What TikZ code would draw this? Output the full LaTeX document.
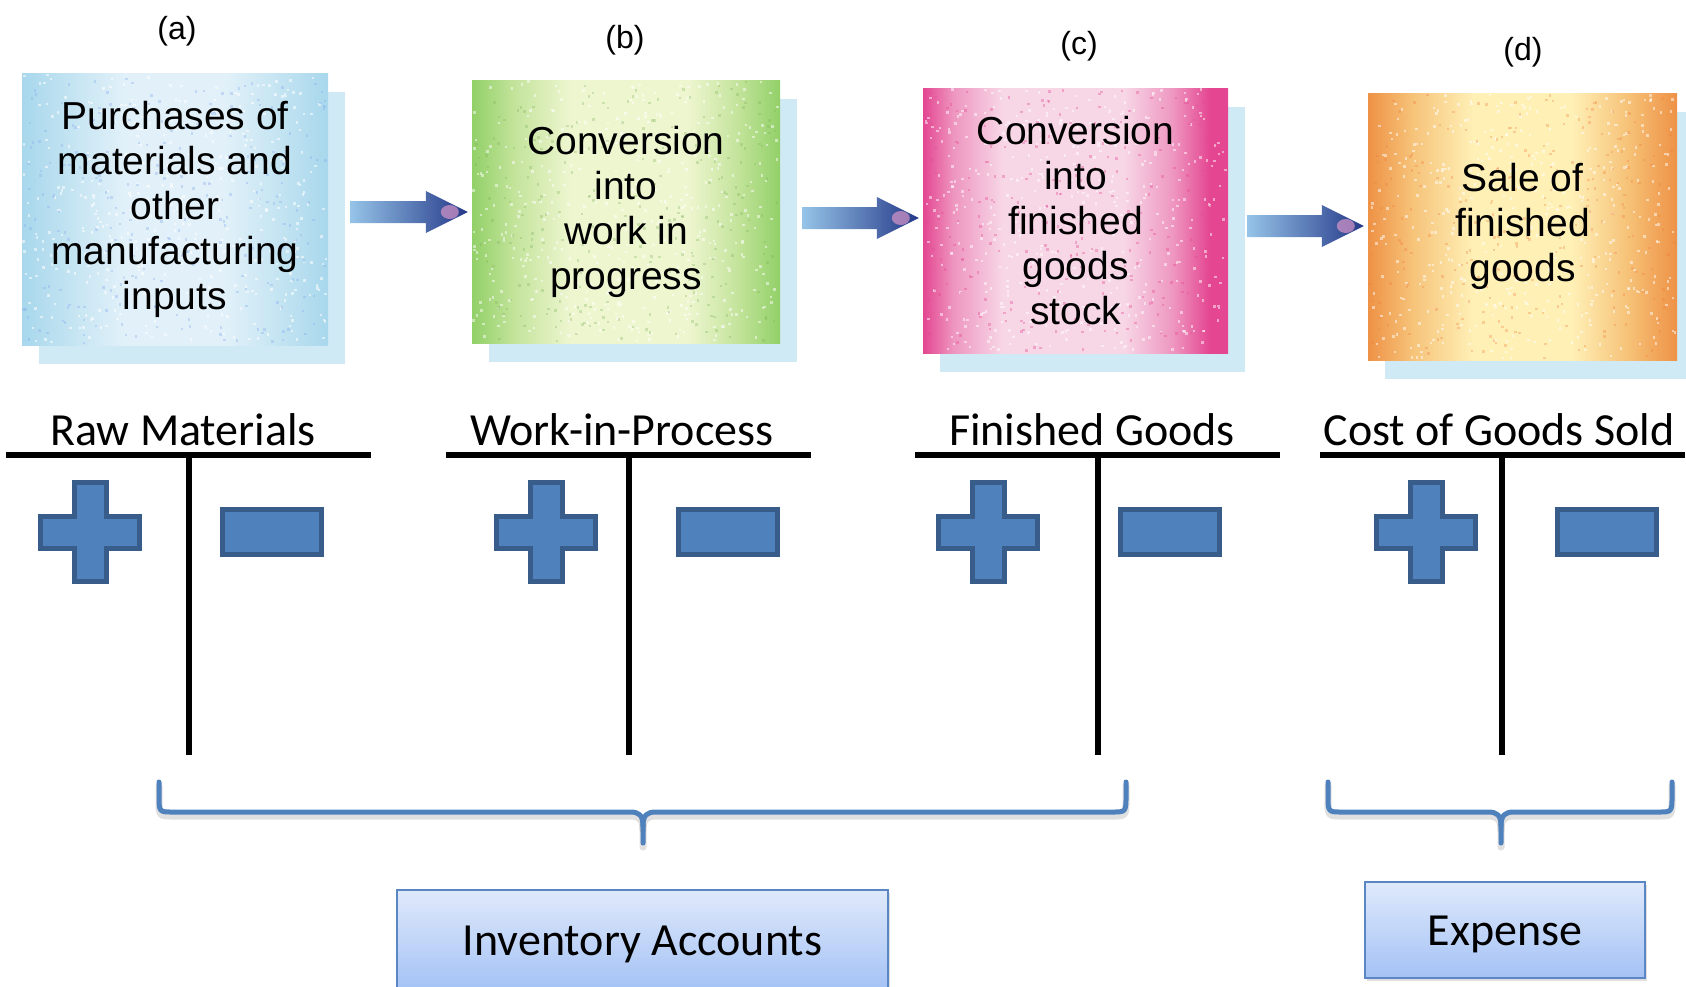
\documentclass[tikz,border=0pt]{standalone}
\usepackage{fontspec}
\setmainfont{Carlito}
\newfontfamily\boxfont{Liberation Sans}
\usetikzlibrary{calc,shadows}

\definecolor{signfill}{HTML}{4F81BD}
\definecolor{signedge}{HTML}{385D8A}
\definecolor{bracecol}{HTML}{4F81BD}
\definecolor{acctop}{HTML}{DFE9FB}
\definecolor{accbot}{HTML}{A4C2F5}
\definecolor{accedge}{HTML}{5A86C3}
\definecolor{blueedge}{RGB}{168,215,236}
\definecolor{bluehalf}{RGB}{196,228,242}
\definecolor{bluemid}{RGB}{226,241,249}
\definecolor{greenedge}{RGB}{146,208,104}
\definecolor{greenhalf}{RGB}{196,228,156}
\definecolor{greenmid}{RGB}{238,246,208}
\definecolor{pinkedge}{RGB}{228,70,145}
\definecolor{pinkhalf}{RGB}{238,150,192}
\definecolor{pinkmid}{RGB}{247,214,230}
\definecolor{orangeedge}{RGB}{238,146,70}
\definecolor{orangehalf}{RGB}{246,194,120}
\definecolor{orangemid}{RGB}{255,240,182}
\definecolor{backcyan}{RGB}{208,234,245}
\definecolor{arrowtail}{RGB}{150,196,232}
\definecolor{arrowbody}{RGB}{58,98,178}
\definecolor{arrowtip}{RGB}{36,56,136}
\definecolor{arrowglow}{RGB}{215,150,200}

% stage fills: strong colour at the sides, a pale band behind the text
\pgfdeclarehorizontalshading{bluestage}{100bp}{color(0bp)=(blueedge); color(25bp)=(blueedge);
  color(33bp)=(bluehalf); color(42bp)=(bluemid); color(58bp)=(bluemid);
  color(67bp)=(bluehalf); color(75bp)=(blueedge); color(100bp)=(blueedge)}
\pgfdeclarehorizontalshading{greenstage}{100bp}{color(0bp)=(greenedge); color(25bp)=(greenedge);
  color(32bp)=(greenhalf); color(41bp)=(greenmid); color(60bp)=(greenmid);
  color(68bp)=(greenhalf); color(75bp)=(greenedge); color(100bp)=(greenedge)}
\pgfdeclarehorizontalshading{pinkstage}{100bp}{color(0bp)=(pinkedge); color(25bp)=(pinkedge);
  color(30bp)=(pinkhalf); color(38bp)=(pinkmid); color(58bp)=(pinkmid);
  color(66bp)=(pinkhalf); color(72bp)=(pinkedge); color(100bp)=(pinkedge)}
\pgfdeclarehorizontalshading{orangestage}{100bp}{color(0bp)=(orangeedge); color(25bp)=(orangeedge);
  color(32bp)=(orangehalf); color(42bp)=(orangemid); color(58bp)=(orangemid);
  color(67bp)=(orangehalf); color(75bp)=(orangeedge); color(100bp)=(orangeedge)}

% fat block arrow from a start coordinate to the west side of a stage box
\newcommand{\flowarrow}[2]{%
  \shade[left color=arrowtail, middle color=arrowbody, right color=arrowtip]
    let \p1=(#1), \p2=(#2.west) in
    ({\x1},{\y1+11pt}) -- ({\x2-46pt},{\y1+11pt}) -- ({\x2-46pt},{\y1+21pt})
    -- ({\x2-4pt},{\y1}) -- ({\x2-46pt},{\y1-21pt}) -- ({\x2-46pt},{\y1-11pt})
    -- ({\x1},{\y1-11pt}) -- cycle;
  \fill[arrowglow, opacity=0.7] let \p1=(#1), \p2=(#2.west) in
    ({\x2-22pt},{\y1}) ellipse [x radius=9pt, y radius=7pt];
}

% printed grain: small specks scattered over a rectangle
\newcommand{\grain}[6]{%
  \foreach \k in {1,...,#6}{%
    \pgfmathsetmacro{\sx}{#1+rnd*(#3-3)}%
    \pgfmathsetmacro{\sy}{#2+rnd*(#4-3)}%
    \fill[#5] (\sx,\sy) rectangle ++(2.5,2.5);
  }%
}

\begin{document}
\begin{tikzpicture}[x=1pt,y=-1pt,
  stagebox/.style={inner sep=0pt, align=center,
    font=\boxfont\fontsize{39}{45}\selectfont,
    drop shadow={shadow xshift=17pt, shadow yshift=-19pt, fill=backcyan, opacity=1}},
  stagelabel/.style={font=\boxfont\fontsize{32}{38}\selectfont, inner sep=0pt},
  acctitle/.style={font=\fontsize{46}{55}\selectfont, inner sep=0pt, anchor=base},
  tline/.style={line width=6pt, black},
  signshape/.style={fill=signfill, draw=signedge, line width=5pt, line join=miter},
  plussign/.pic={\draw[signshape] (-49.5,-16) -- (-16,-16) -- (-16,-49.5) -- (16,-49.5)
      -- (16,-16) -- (49.5,-16) -- (49.5,16) -- (16,16) -- (16,49.5) -- (-16,49.5)
      -- (-16,16) -- (-49.5,16) -- cycle;},
  minussign/.pic={\draw[signshape] (-49.5,-22.5) rectangle (49.5,22.5);},
  bracestyle/.style={draw=bracecol, line width=5pt, line cap=round, line join=round},
  braceshadow/.style={draw=black, opacity=0.12, line width=7pt, line cap=round, line join=round},
  accbox/.style={shade, top color=acctop, bottom color=accbot, draw=accedge,
    line width=2pt, inner sep=0pt, font=\fontsize{46}{55}\selectfont,
    text height=30pt, text depth=0pt,
    drop shadow={shadow xshift=2pt, shadow yshift=-3pt, opacity=0.25}},
]
\useasboundingbox (0,0) rectangle (1686,986);
\pgfmathsetseed{1234}

% ---- production stages ----
\node[stagebox, minimum width=306pt, minimum height=272pt, shading=bluestage]
  (a) at (175,209) {\phantom{x}};
\node[stagebox, minimum width=308pt, minimum height=263pt, shading=greenstage]
  (b) at (626,211.5) {\phantom{x}};
\node[stagebox, minimum width=305pt, minimum height=265pt, shading=pinkstage]
  (c) at (1075.5,220.5) {\phantom{x}};
\node[stagebox, minimum width=309pt, minimum height=267pt, shading=orangestage]
  (d) at (1522.5,226.5) {\phantom{x}};

% grain over the stage fills
\grain{22}{73}{306}{272}{white, opacity=0.55}{420}
\grain{22}{73}{306}{272}{blueedge!80!blue, opacity=0.35}{260}
\grain{472}{80}{308}{263}{white, opacity=0.5}{420}
\grain{472}{80}{308}{263}{greenedge!85!black, opacity=0.3}{260}
\grain{923}{88}{305}{265}{white, opacity=0.5}{420}
\grain{923}{88}{305}{265}{pinkedge, opacity=0.35}{260}
\grain{1368}{93}{309}{267}{white, opacity=0.5}{420}
\grain{1368}{93}{309}{267}{orangeedge!85!red, opacity=0.3}{260}

% stage texts
\node[align=center, font=\boxfont\fontsize{39}{45}\selectfont] (ta) at (a.center)
  {Purchases of\\materials and\\other\\manufacturing\\inputs};
\node[align=center, font=\boxfont\fontsize{39}{45}\selectfont] (tb) at (b.center)
  {Conversion\\into\\work in\\progress};
\node[align=center, font=\boxfont\fontsize{39}{45}\selectfont] (tc) at (c.center)
  {Conversion\\into\\finished\\goods\\stock};
\node[align=center, font=\boxfont\fontsize{39}{45}\selectfont] (td) at (d.center)
  {Sale of\\finished\\goods};

\node[stagelabel] (la) at (177,31) {(a)};
\node[stagelabel] (lb) at (625,40) {(b)};
\node[stagelabel] (lc) at (1079,46) {(c)};
\node[stagelabel] (ld) at (1523,52) {(d)};

% ---- flow arrows ----
\coordinate (ab) at (350,212);
\coordinate (bc) at (802,218);
\coordinate (cd) at (1247,226);
\flowarrow{ab}{b}
\flowarrow{bc}{c}
\flowarrow{cd}{d}

% ---- T-accounts ----
\node[acctitle] (trm) at (183,445) {Raw Materials};
\node[acctitle] (twp) at (622,445) {Work-in-Process};
\node[acctitle] (tfg) at (1092,445) {Finished Goods};
\node[acctitle] (tcg) at (1499,445) {Cost of Goods Sold};

\draw[tline] (6,455) -- (371,455);
\draw[tline] (189,455) -- (189,755);
\draw[tline] (446,455) -- (811,455);
\draw[tline] (629,455) -- (629,755);
\draw[tline] (915,455) -- (1280,455);
\draw[tline] (1098,455) -- (1098,755);
\draw[tline] (1320,455) -- (1685,455);
\draw[tline] (1502,455) -- (1502,755);

\pic (prm) at (90,532) {plussign};
\pic (mrm) at (272,532) {minussign};
\pic (pwp) at (546,532) {plussign};
\pic (mwp) at (728,532) {minussign};
\pic (pfg) at (988,532) {plussign};
\pic (mfg) at (1170,532) {minussign};
\pic (pcg) at (1426,532) {plussign};
\pic (mcg) at (1607,532) {minussign};

% ---- grouping braces ----
\foreach \dy/\sty in {4/braceshadow, 0/bracestyle} {
  \begin{scope}[yshift=-\dy pt]
  \draw[\sty] (159,782) -- (159,800) .. controls (159,812) and (161,812) .. (172,812)
    -- (630,812) .. controls (639,812) and (643,815) .. (643,826) -- (643,843);
  \draw[\sty] (1126,782) -- (1126,800) .. controls (1126,812) and (1124,812) .. (1113,812)
    -- (656,812) .. controls (647,812) and (643,815) .. (643,826);
  \draw[\sty] (1328,782) -- (1328,800) .. controls (1328,812) and (1330,812) .. (1341,812)
    -- (1488,812) .. controls (1497,812) and (1501,815) .. (1501,826) -- (1501,843);
  \draw[\sty] (1672,782) -- (1672,800) .. controls (1672,812) and (1670,812) .. (1659,812)
    -- (1514,812) .. controls (1505,812) and (1501,815) .. (1501,826);
  \end{scope}
}

% ---- account categories ----
\node[accbox, minimum width=491pt, minimum height=100pt] (inv) at (642.5,940) {Inventory Accounts};
\node[accbox, minimum width=280pt, minimum height=96pt] (exp) at (1505,930) {Expense};
\end{tikzpicture}
\end{document}
